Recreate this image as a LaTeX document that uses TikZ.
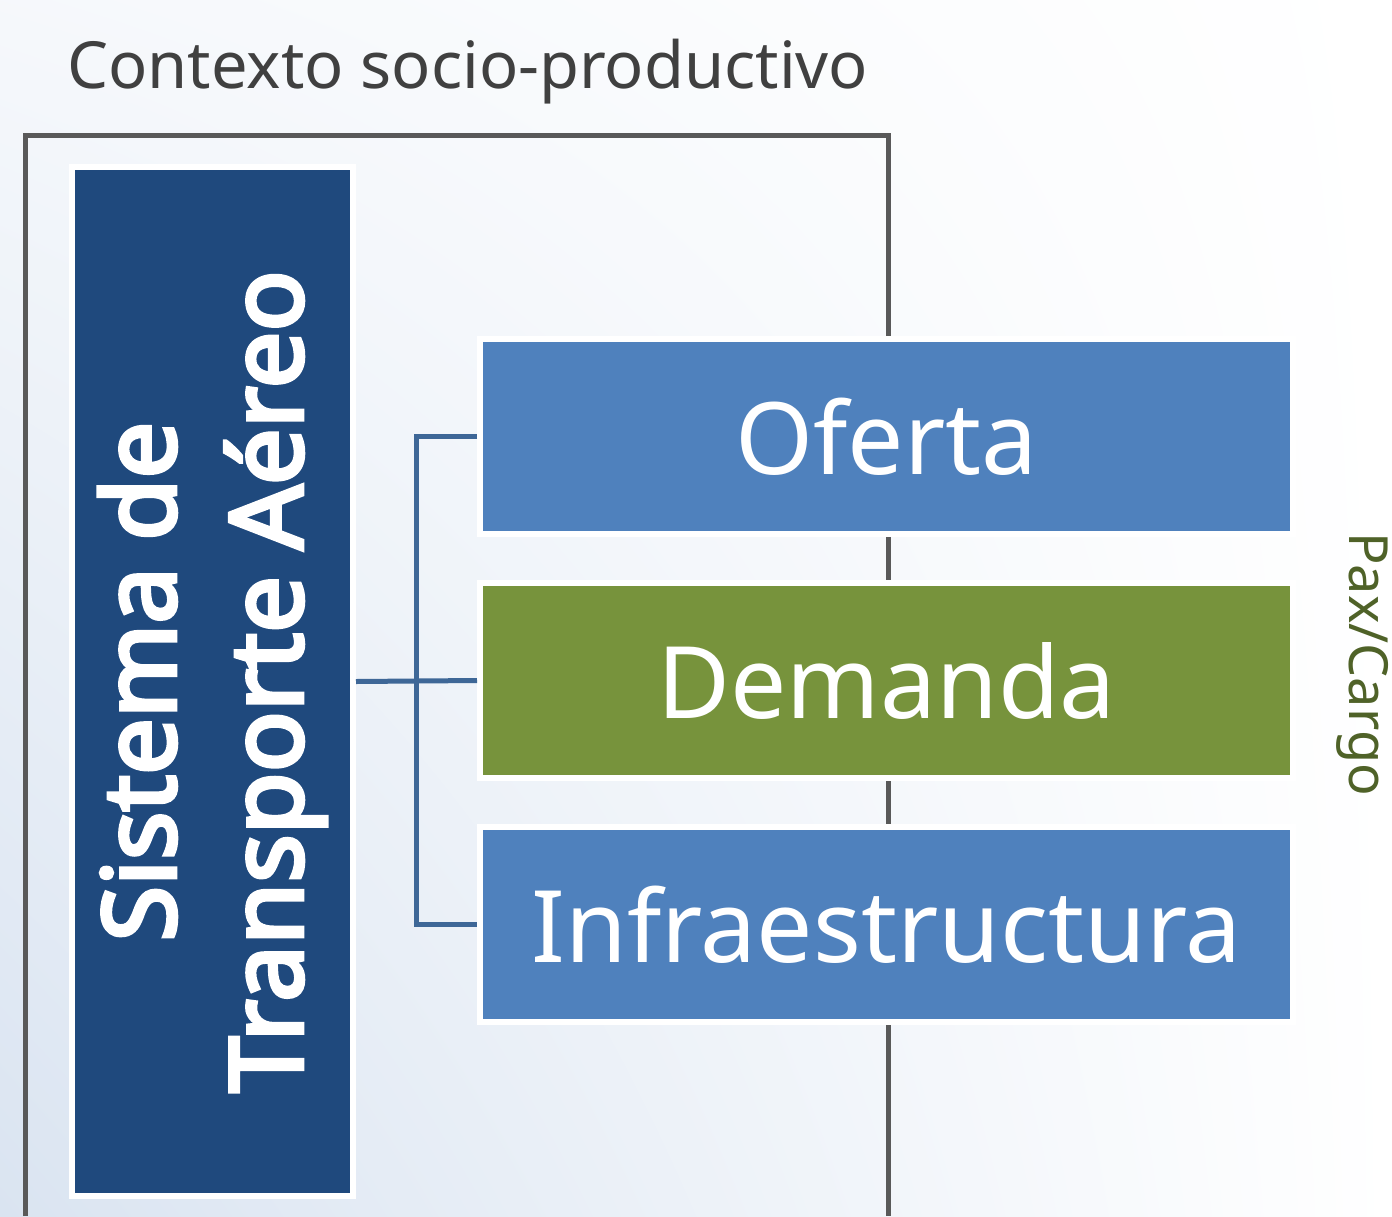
\documentclass[tikz,border=0pt]{standalone}
\usepackage{fontspec}
\setmainfont{Noto Sans}
\newfontfamily\sysfont{Noto Sans}[FakeBold=4]
\usepackage{tikz}
\usepackage{xcolor}
\usetikzlibrary{shadings}
\definecolor{sysblue}{RGB}{31,73,125}
\definecolor{boxblue}{RGB}{79,129,189}
\definecolor{boxgreen}{RGB}{119,147,60}
\definecolor{darkgreen}{RGB}{79,98,40}
\definecolor{framegray}{RGB}{89,89,89}
\definecolor{linkblue}{RGB}{62,103,151}
\definecolor{titlegray}{RGB}{64,64,64}
\definecolor{bgblue}{RGB}{218,228,241}

\begin{document}
\begin{tikzpicture}[x=1pt,y=1pt,
  part/.style={draw=white,line width=6pt,minimum width=813,minimum height=195,
    text=white,font=\fontsize{100}{110}\selectfont},
  link/.style={draw=linkblue,line width=5pt}]
  \useasboundingbox (0,-1216) rectangle (1392,0);
  \shade[lower left=bgblue,upper left=bgblue!25,upper right=white,lower right=white]
    (0,-1216) rectangle (1392,0);
  \node[anchor=base west,text=titlegray,font=\fontsize{65}{75}\selectfont,inner sep=0]
    (ctx) at (67,-88) {Contexto socio-productivo};
  \draw[framegray,line width=5pt] (25,-1216) -- (25,-135) -- (888,-135) -- (888,-1216);
  \node[rotate=90,fill=sysblue,draw=white,line width=6pt,minimum width=1029,
    minimum height=281,text=white,align=center,
    font=\sysfont\fontsize{101}{127}\selectfont] (sys) at (212.5,-681.5)
    {Sistema de\\Transporte Aéreo};
  \node[part,fill=boxblue] (oferta) at (886.5,-436.5) {Oferta};
  \node[part,fill=boxgreen] (demanda) at (886.5,-680.5) {Demanda};
  \node[part,fill=boxblue] (infra) at (886.5,-924.5) {Infraestructura};
  \node[rotate=-90,text=darkgreen,font=\fontsize{54}{60}\selectfont] (pax)
    at (1363,-664) {Pax/Cargo};
  \draw[link] (sys.south) -- (demanda.west);
  \draw[link] (oferta.west) -- ++(-61,0) |- (infra.west);

\end{tikzpicture}
\end{document}
